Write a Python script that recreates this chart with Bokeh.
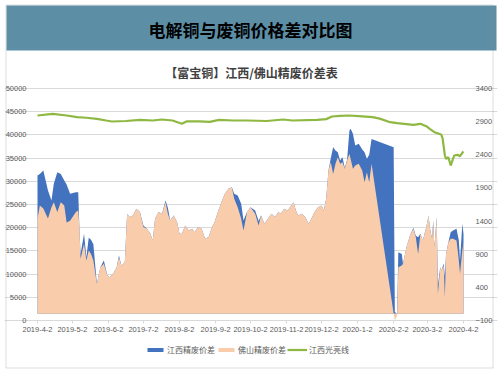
import pandas as pd
from bokeh.plotting import figure
from bokeh.models import (Range1d, LinearAxis, FixedTicker, Legend, LegendItem,
                          BoxAnnotation, Label)
from bokeh.embed import file_html
from bokeh.resources import INLINE

# ---------------- data ----------------
dates = [
    "2019-04-02", "2019-04-04", "2019-04-07", "2019-04-11", "2019-04-14", "2019-04-16", "2019-04-19",
    "2019-04-22", "2019-04-25", "2019-04-27", "2019-04-30",
    "2019-05-05", "2019-05-07", "2019-05-08", "2019-05-09", "2019-05-12", "2019-05-14", "2019-05-16",
    "2019-05-18", "2019-05-20", "2019-05-23", "2019-05-26", "2019-05-29",
    "2019-06-01", "2019-06-03", "2019-06-06", "2019-06-09", "2019-06-11", "2019-06-13", "2019-06-16",
    "2019-06-18", "2019-06-20", "2019-06-23", "2019-06-26", "2019-06-29",
    "2019-07-02", "2019-07-05", "2019-07-08", "2019-07-10", "2019-07-12", "2019-07-15", "2019-07-18",
    "2019-07-21", "2019-07-23", "2019-07-25", "2019-07-28", "2019-07-31",
    "2019-08-02", "2019-08-04", "2019-08-07", "2019-08-10", "2019-08-13", "2019-08-15", "2019-08-18",
    "2019-08-21", "2019-08-24", "2019-08-27", "2019-08-30",
    "2019-09-01", "2019-09-04", "2019-09-07", "2019-09-10", "2019-09-13", "2019-09-16", "2019-09-18",
    "2019-09-21", "2019-09-24", "2019-09-26", "2019-09-29",
    "2019-10-02", "2019-10-06", "2019-10-09", "2019-10-11", "2019-10-14", "2019-10-17", "2019-10-20",
    "2019-10-23", "2019-10-26", "2019-10-28", "2019-10-31",
    "2019-11-03", "2019-11-06", "2019-11-08", "2019-11-10", "2019-11-12", "2019-11-15", "2019-11-18",
    "2019-11-21", "2019-11-24", "2019-11-26", "2019-11-29",
    "2019-12-02", "2019-12-04", "2019-12-06", "2019-12-08", "2019-12-10", "2019-12-12", "2019-12-14",
    "2019-12-16", "2019-12-18", "2019-12-20", "2019-12-22", "2019-12-24", "2019-12-26", "2019-12-27",
    "2019-12-29", "2019-12-31",
    "2020-01-03", "2020-01-06", "2020-01-08", "2020-01-10", "2020-01-12", "2020-01-14",
    "2020-02-02", "2020-02-03", "2020-02-05", "2020-02-06", "2020-02-09", "2020-02-10", "2020-02-13",
    "2020-02-16", "2020-02-19", "2020-02-21", "2020-02-23", "2020-02-25", "2020-02-27",
    "2020-03-01", "2020-03-03", "2020-03-04", "2020-03-06", "2020-03-07", "2020-03-08", "2020-03-10",
    "2020-03-11", "2020-03-13", "2020-03-14", "2020-03-16", "2020-03-17", "2020-03-18", "2020-03-20",
    "2020-03-22", "2020-03-24", "2020-03-27", "2020-03-29", "2020-03-30", "2020-04-01", "2020-04-02",
]

# 江西精废价差 (right axis)
jiangxi = [
    2087, 2112, 2163, 1861, 1710, 1962, 2138, 2112, 2012, 1950, 1811,
    1836, 1836, 1300, 900, 1208, 850, 1150, 1120, 1050, 453, 705, 805,
    579, 553, 604, 705, 880, 730, 780, 1510, 1460, 1485, 1585, 1535,
    1335, 1285, 1208, 1107, 1434, 1535, 1510, 1710, 1600, 1410, 1485, 1380,
    1208, 1208, 1333, 1258, 1285, 1233, 1310, 1285, 1133, 1158, 1310,
    1380, 1535, 1685, 1811, 1887, 1912, 1811, 1786, 1660, 1410, 1535,
    1610, 1560, 1400, 1485, 1358, 1434, 1510, 1460, 1535, 1510, 1585,
    1560, 1635, 1685, 1560, 1485, 1510, 1460, 1358, 1460, 1535, 1610,
    1635, 1560, 1736, 2163, 2350, 2514, 2465, 2440, 2314, 2364, 2200, 2330, 2767, 2792, 2717, 2540,
    2565, 2480, 2440, 2339, 2400, 2640,
    2514, 30, 0, 931, 905, 755, 1006, 1183, 1300, 1180, 1157, 1208, 1107,
    1308, 1485, 1308, 1132, 1409, 1006, 1460, 430, 705, 654, 760, 560, 905, 1082,
    1233, 1258, 1283, 1107, 805, 1358, 1208,
]

# 佛山精废价差 (right axis)
foshan = [
    1434, 1635, 1590, 1440, 1610, 1685, 1535, 1685, 1635, 1380, 1405,
    1535, 1560, 1310, 830, 1057, 805, 955, 905, 805, 453, 705, 755,
    579, 553, 604, 705, 855, 730, 780, 1510, 1460, 1485, 1585, 1535,
    1310, 1285, 1208, 1107, 1434, 1535, 1510, 1685, 1510, 1410, 1485, 1380,
    1208, 1208, 1333, 1258, 1285, 1233, 1310, 1285, 1133, 1158, 1310,
    1380, 1535, 1685, 1811, 1887, 1912, 1736, 1610, 1434, 1258, 1535,
    1610, 1510, 1333, 1485, 1358, 1434, 1510, 1460, 1535, 1510, 1585,
    1560, 1635, 1685, 1560, 1485, 1510, 1460, 1358, 1460, 1535, 1610,
    1635, 1560, 1736, 2163, 2289, 2112, 2264, 2364, 2264, 2289, 2188, 2314, 2415, 2339, 2188, 2238,
    2264, 2163, 1987, 2138, 1987, 2264,
    0, -100, -30, 705, 730, 755, 1006, 1183, 1283, 1158, 905, 1208, 1107,
    1308, 1485, 1308, 1132, 1409, 1006, 1460, 300, 705, 654, 730, 250, 905, 1082,
    1133, 1133, 1107, 805, 604, 956, 1082,
]

# 江西光亮线 (left axis)
line_dates = [
    "2019-04-02", "2019-04-15", "2019-04-27", "2019-05-06", "2019-05-14", "2019-05-23", "2019-05-31",
    "2019-06-05", "2019-06-17", "2019-06-29", "2019-07-10", "2019-07-18", "2019-07-27", "2019-08-04",
    "2019-08-08", "2019-08-19", "2019-08-28", "2019-09-05", "2019-09-17", "2019-09-29", "2019-10-16",
    "2019-10-30", "2019-11-07", "2019-11-28", "2019-12-06", "2019-12-11", "2019-12-18", "2019-12-26",
    "2020-01-06", "2020-01-15", "2020-01-21", "2020-01-30", "2020-02-05", "2020-02-19", "2020-02-25",
    "2020-03-01", "2020-03-04", "2020-03-08", "2020-03-12", "2020-03-14", "2020-03-15", "2020-03-17",
    "2020-03-18", "2020-03-20", "2020-03-22", "2020-03-24", "2020-03-25", "2020-03-28", "2020-03-30",
    "2020-04-01", "2020-04-02",
]
guangliang = [
    44180, 44540, 44180, 43820, 43700, 43460, 43100, 42890, 43000, 43250, 43100, 43320, 43100, 42390,
    42900, 42900, 42800, 43250, 43100, 43100, 43000, 43320, 43100, 43250, 43400, 43970, 44110, 44180,
    44000, 43820, 43500, 42740, 42520, 42170, 42390, 41880, 41310, 40590, 40230, 40020, 39300, 35560,
    34850, 35190, 33400, 34850, 35560, 35710, 35410, 36140, 36420,
]

month_ticks = ["2019-04-02", "2019-05-02", "2019-06-02", "2019-07-02", "2019-08-02", "2019-09-02",
               "2019-10-02", "2019-11-02", "2019-12-02", "2020-01-02", "2020-02-02", "2020-03-02",
               "2020-04-02"]
month_labels = ["2019-4-2", "2019-5-2", "2019-6-2", "2019-7-2", "2019-8-2", "2019-9-2", "2019-10-2",
                "2019-11-2", "2019-12-2", "2020-1-2", "2020-2-2", "2020-3-2", "2020-4-2"]

left_ticks = [0, 5000, 10000, 15000, 20000, 25000, 30000, 35000, 40000, 45000, 50000]
right_ticks = [-100, 400, 900, 1400, 1900, 2400, 2900, 3400]

title_text = "电解铜与废铜价格差对比图"
subtitle_text = "【富宝铜】江西/佛山精废价差表"
series_names = ["江西精废价差", "佛山精废价差", "江西光亮线"]

GRAY = "#595959"
NUM_FONT = "Liberation Sans"
CJK_FONT = "Noto Sans CJK SC"

# ---------------- layout (canvas pixels) ----------------
W, H = 500, 370
F_LEFT, F_RIGHT = 4, 497          # plot frame spans almost the whole canvas
PLOT_L, PLOT_R = 37, 463          # first / last date
G_TOP, G_BOT = 88, 320            # top / bottom gridline

t0 = pd.Timestamp(month_ticks[0])
t1 = pd.Timestamp(month_ticks[-1])
px_per_day = (PLOT_R - PLOT_L) / ((t1 - t0).days)
x_lo = t0 - pd.Timedelta(days=(PLOT_L - F_LEFT) / px_per_day)
x_hi = t1 + pd.Timedelta(days=(F_RIGHT - PLOT_R) / px_per_day)
t0_ms = t0.value // 10**6
t1_ms = t1.value // 10**6

lspan = left_ticks[-1] - left_ticks[0]
rspan = right_ticks[-1] - right_ticks[0]
G_H = G_BOT - G_TOP
y_lo = left_ticks[0] - (H - G_BOT) / G_H * lspan
y_hi = left_ticks[-1] + G_TOP / G_H * lspan
r_lo = right_ticks[0] - (H - G_BOT) / G_H * rspan
r_hi = right_ticks[-1] + G_TOP / G_H * rspan

# ---------------- figure ----------------
x = pd.to_datetime(dates)
xl = pd.to_datetime(line_dates)
tick_ms = [int(pd.Timestamp(d).value // 10**6) for d in month_ticks]

p = figure(width=W, height=H, x_axis_type="datetime", output_backend="svg",
           toolbar_location=None, title=None,
           x_range=Range1d(x_lo, x_hi), y_range=Range1d(y_lo, y_hi),
           min_border_left=F_LEFT, min_border_right=W - F_RIGHT,
           min_border_top=0, min_border_bottom=0)
p.extra_y_ranges = {"r": Range1d(r_lo, r_hi)}
p.outline_line_color = None
p.background_fill_color = "white"
p.border_fill_color = "white"

# header bar (behind everything)
p.add_layout(BoxAnnotation(left=6 - F_LEFT, right=496 - F_LEFT, top=H - 5, bottom=H - 50,
                           left_units="screen", right_units="screen",
                           top_units="screen", bottom_units="screen",
                           fill_color="#5C8FA6", fill_alpha=1, line_color=None,
                           level="underlay"))

blue = p.varea(x=x, y1=0, y2=jiangxi, fill_color="#4372BE", y_range_name="r")
peach = p.varea(x=x, y1=0, y2=foshan, fill_color="#F9CDAC", y_range_name="r")
green = p.line(xl, guangliang, line_color="#8EB842", line_width=2.2)

p.xgrid.visible = False
p.ygrid.ticker = FixedTicker(ticks=left_ticks)
p.ygrid.grid_line_color = "#D9D9D9"
p.ygrid.bounds = (t0_ms, t1_ms)

ya = p.yaxis[0]
ya.fixed_location = t0_ms
ya.ticker = FixedTicker(ticks=left_ticks)
ya.axis_line_color = None
ya.major_tick_line_color = None
ya.minor_tick_line_color = None
ya.major_label_standoff = 5
ya.major_label_text_font = NUM_FONT
ya.major_label_text_font_size = "7.5px"
ya.major_label_text_color = GRAY

ra = LinearAxis(y_range_name="r", ticker=FixedTicker(ticks=right_ticks))
ra.fixed_location = t1_ms
ra.axis_line_color = None
ra.major_tick_line_color = None
ra.minor_tick_line_color = None
ra.major_label_standoff = 6
ra.major_label_text_font = NUM_FONT
ra.major_label_text_font_size = "7.5px"
ra.major_label_text_color = GRAY
p.add_layout(ra, "right")

xa = p.xaxis[0]
xa.fixed_location = 0
xa.bounds = (t0_ms, t1_ms)
xa.ticker = FixedTicker(ticks=tick_ms)
xa.major_label_overrides = {t: lab for t, lab in zip(tick_ms, month_labels)}
xa.axis_line_color = "#D9D9D9"
xa.major_tick_line_color = "#D9D9D9"
xa.major_tick_out = 3
xa.major_tick_in = 0
xa.minor_tick_line_color = None
xa.major_label_standoff = 3
xa.major_label_text_font = NUM_FONT
xa.major_label_text_font_size = "7.5px"
xa.major_label_text_color = GRAY

# titles
p.add_layout(Label(x=250 - F_LEFT, y=H - 29, x_units="screen", y_units="screen",
                   text=title_text, text_font=CJK_FONT, text_font_size="17px",
                   text_font_style="bold", text_color="black",
                   text_align="center", text_baseline="middle"))
p.add_layout(Label(x=251 - F_LEFT, y=H - 72, x_units="screen", y_units="screen",
                   text=subtitle_text, text_font=CJK_FONT, text_font_size="12px",
                   text_font_style="bold", text_color="#404040",
                   text_align="center", text_baseline="middle"))

# outer grey frame
p.add_layout(BoxAnnotation(left=5.5 - F_LEFT, right=492.5 - F_LEFT, top=H - 4.5, bottom=H - 367.5,
                           left_units="screen", right_units="screen",
                           top_units="screen", bottom_units="screen",
                           fill_alpha=0, line_color="#8C8C8C", line_width=1))

legend = Legend(items=[LegendItem(label=series_names[0], renderers=[blue]),
                       LegendItem(label=series_names[1], renderers=[peach]),
                       LegendItem(label=series_names[2], renderers=[green])],
                orientation="horizontal", location=(145 - F_LEFT, H - 355),
                glyph_width=20, glyph_height=5, label_standoff=2, spacing=1,
                label_height=10, padding=0, margin=0,
                border_line_color=None, background_fill_alpha=0,
                label_text_font=CJK_FONT, label_text_font_size="8px",
                label_text_color=GRAY)
p.add_layout(legend, "center")

open("out.html", "w").write(file_html(p, INLINE))
